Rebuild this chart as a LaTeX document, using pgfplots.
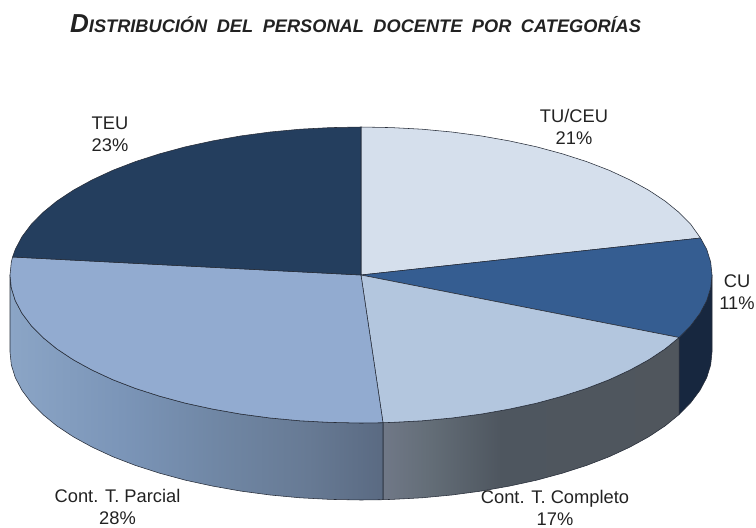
\documentclass[border=0pt]{standalone}
\usepackage{fontspec}
\setmainfont{Liberation Sans}
\usepackage{pgfplots}
\pgfplotsset{compat=1.18}

\definecolor{tuceu}{RGB}{213,223,236}
\definecolor{cu}{RGB}{53,93,145}
\definecolor{completo}{RGB}{179,198,222}
\definecolor{parcial}{RGB}{146,171,208}
\definecolor{teu}{RGB}{36,62,94}
\definecolor{cuwall}{RGB}{23,39,63}
\definecolor{edge}{RGB}{38,44,56}
\definecolor{txt}{RGB}{34,34,34}

% side walls of the pie
\definecolor{pa}{RGB}{139,165,198}
\definecolor{pb}{RGB}{123,149,184}
\definecolor{pc}{RGB}{112,135,165}
\definecolor{pd}{RGB}{103,122,148}
\definecolor{pe}{RGB}{90,106,130}
\pgfdeclarehorizontalshading{wallparcial}{100bp}{color(0bp)=(pa); color(25bp)=(pa); color(40bp)=(pb); color(52.5bp)=(pc); color(65bp)=(pd); color(75bp)=(pe); color(100bp)=(pe)}
\definecolor{ca}{RGB}{112,120,135}
\definecolor{cb}{RGB}{100,110,120}
\definecolor{cc}{RGB}{78,86,95}
\definecolor{cd}{RGB}{80,86,93}
\pgfdeclarehorizontalshading{wallcompleto}{100bp}{color(0bp)=(ca); color(25bp)=(ca); color(32.5bp)=(cb); color(45bp)=(cc); color(75bp)=(cd); color(100bp)=(cd)}

\tikzset{
    slice/.style={draw=edge, line width=0.55pt, line join=round},
    lab/.style={align=center, inner sep=0pt, text=txt, font=\fontsize{18.3}{22}\selectfont},
}

\begin{document}
\begin{tikzpicture}
\useasboundingbox (0,0) rectangle (756pt,528pt);
\begin{axis}[
    scale only axis,
    width=756pt,
    height=528pt,
    xmin=0, xmax=756,
    ymin=0, ymax=528,
    y dir=reverse,
    hide axis,
    clip=false,
    no markers,
]

% Paredes
\addplot[slice, fill=cuwall] coordinates {
    (712,275) (710.7,287.9) (706.7,300.7) (700,313.3) (690.8,325.6) (679.1,337.5)
    (679.1,414.5) (690.8,402.6) (700,390.3) (706.7,377.7) (710.7,364.9) (712,352)
} --cycle;
\addplot[slice, shading=wallcompleto] coordinates {
    (383,422.7) (391.6,422.4) (421.9,420.8) (451.8,418) (481,414.1) (509.3,409.1)
    (536.5,403.2) (562.3,396.2) (586.6,388.4) (609.2,379.7) (629.9,370.1)
    (648.5,359.9) (665,349) (679.1,337.5)
    (679.1,414.5) (665,426) (648.5,436.9) (629.9,447.1) (609.2,456.7) (586.6,465.4)
    (562.3,473.2) (536.5,480.2) (509.3,486.1) (481,491.1) (451.8,495) (421.9,497.8)
    (391.6,499.4) (383,499.7)
} --cycle;
\addplot[slice, shading=wallparcial] coordinates {
    (10,275) (11.3,287.9) (15.3,300.7) (22,313.3) (31.2,325.6) (42.9,337.5) (57,349)
    (73.5,359.9) (92.1,370.1) (112.8,379.7) (135.4,388.4) (159.7,396.2) (185.5,403.2)
    (212.7,409.1) (241,414.1) (270.2,418) (300.1,420.8) (330.4,422.4) (361,423) (383,422.7)
    (383,499.7) (361,500) (330.4,499.4) (300.1,497.8) (270.2,495) (241,491.1) (212.7,486.1)
    (185.5,480.2) (159.7,473.2) (135.4,465.4) (112.8,456.7) (92.1,447.1) (73.5,436.9)
    (57,426) (42.9,414.5) (31.2,402.6) (22,390.3) (15.3,377.7) (11.3,364.9) (10,352)
} --cycle;

% Sectores
\addplot[slice, fill=tuceu] coordinates {
    (361,275) (361,127) (391.6,127.6) (421.9,129.2) (451.8,132) (481,135.9) (509.3,140.9)
    (536.5,146.8) (562.3,153.8) (586.6,161.6) (609.2,170.3) (629.9,179.9) (648.5,190.1)
    (665,201) (679.1,212.5) (690.8,224.4) (700.5,238)
} --cycle;
\addplot[slice, fill=cu] coordinates {
    (361,275) (700.5,238) (706.7,249.3) (710.7,262.1) (712,275) (710.7,287.9) (706.7,300.7)
    (700,313.3) (690.8,325.6) (679.1,337.5)
} --cycle;
\addplot[slice, fill=completo] coordinates {
    (361,275) (679.1,337.5) (665,349) (648.5,359.9) (629.9,370.1) (609.2,379.7) (586.6,388.4)
    (562.3,396.2) (536.5,403.2) (509.3,409.1) (481,414.1) (451.8,418) (421.9,420.8)
    (391.6,422.4) (383,422.7)
} --cycle;
\addplot[slice, fill=parcial] coordinates {
    (361,275) (383,422.7) (361,423) (330.4,422.4) (300.1,420.8) (270.2,418) (241,414.1)
    (212.7,409.1) (185.5,403.2) (159.7,396.2) (135.4,388.4) (112.8,379.7) (92.1,370.1)
    (73.5,359.9) (57,349) (42.9,337.5) (31.2,325.6) (22,313.3) (15.3,300.7) (11.3,287.9)
    (10,275) (11.3,262.1) (12.6,257)
} --cycle;
\addplot[slice, fill=teu] coordinates {
    (361,275) (12.6,257) (15.3,249.3) (22,236.7) (31.2,224.4) (42.9,212.5) (57,201)
    (73.5,190.1) (92.1,179.9) (112.8,170.3) (135.4,161.6) (159.7,153.8) (185.5,146.8)
    (212.7,140.9) (241,135.9) (270.2,132) (300.1,129.2) (330.4,127.6) (361,127)
} --cycle;

% Etiquetas
\node[lab] at (axis cs:110,134.5) {TEU\\23\%};
\node[lab] at (axis cs:574,126.5) {TU/CEU\\21\%};
\node[lab] at (axis cs:737,292) {CU\\11\%};
\node[lab] at (axis cs:117.5,506.5) {Cont. T. Parcial\\28\%};
\node[lab] at (axis cs:555,508) {Cont. T. Completo\\17\%};

% Titulo
\node[anchor=base west, inner sep=0pt, text=txt, font=\bfseries\itshape] at (axis cs:70,32)
    {\fontsize{26}{26}\selectfont D\fontsize{18.2}{18.2}\selectfont ISTRIBUCIÓN\hspace{4.5pt} DEL\hspace{4.5pt} PERSONAL\hspace{4.5pt} DOCENTE\hspace{4.5pt} POR\hspace{4.5pt} CATEGORÍAS};

\end{axis}
\end{tikzpicture}
\end{document}
